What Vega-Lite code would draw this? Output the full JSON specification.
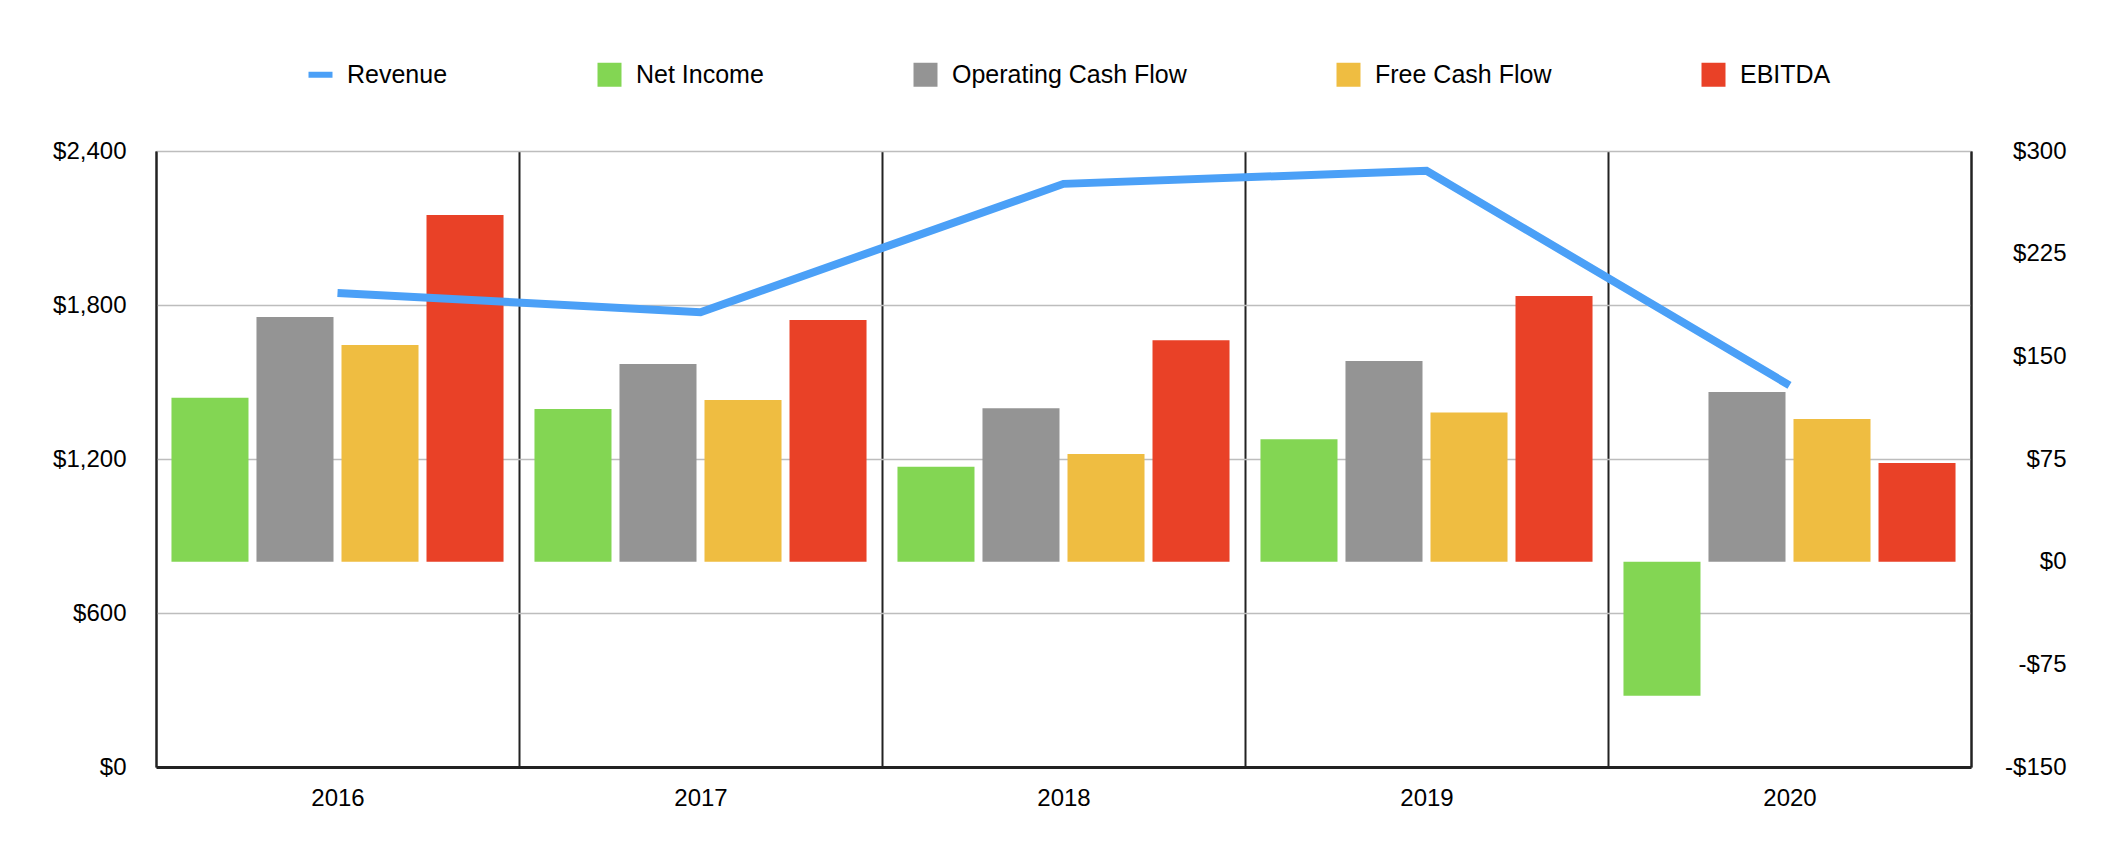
{
  "$schema": "https://vega.github.io/schema/vega-lite/v6.json",
  "width": 1815,
  "height": 616,
  "autosize": {"type": "none"},
  "padding": {"left": 156, "top": 151, "right": 149, "bottom": 87},
  "background": "white",
  "data": {
    "values": [
      {"year": "2016", "series": "Revenue", "value": 1847},
      {"year": "2017", "series": "Revenue", "value": 1772},
      {"year": "2018", "series": "Revenue", "value": 2272},
      {"year": "2019", "series": "Revenue", "value": 2323},
      {"year": "2020", "series": "Revenue", "value": 1487},
      {"year": "2016", "series": "Net Income", "value": 119.8},
      {"year": "2016", "series": "Operating Cash Flow", "value": 178.7},
      {"year": "2016", "series": "Free Cash Flow", "value": 158.3},
      {"year": "2016", "series": "EBITDA", "value": 253.3},
      {"year": "2017", "series": "Net Income", "value": 111.5},
      {"year": "2017", "series": "Operating Cash Flow", "value": 144.4},
      {"year": "2017", "series": "Free Cash Flow", "value": 118.1},
      {"year": "2017", "series": "EBITDA", "value": 176.6},
      {"year": "2018", "series": "Net Income", "value": 69.3},
      {"year": "2018", "series": "Operating Cash Flow", "value": 112},
      {"year": "2018", "series": "Free Cash Flow", "value": 78.6},
      {"year": "2018", "series": "EBITDA", "value": 161.8},
      {"year": "2019", "series": "Net Income", "value": 89.5},
      {"year": "2019", "series": "Operating Cash Flow", "value": 146.6},
      {"year": "2019", "series": "Free Cash Flow", "value": 109},
      {"year": "2019", "series": "EBITDA", "value": 194},
      {"year": "2020", "series": "Net Income", "value": -97.9},
      {"year": "2020", "series": "Operating Cash Flow", "value": 124},
      {"year": "2020", "series": "Free Cash Flow", "value": 104.2},
      {"year": "2020", "series": "EBITDA", "value": 72.1}
    ]
  },
  "encoding": {
    "x": {
      "field": "year",
      "type": "nominal",
      "scale": {"paddingInner": 0, "paddingOuter": 0},
      "axis": {
        "title": null,
        "labelAngle": 0,
        "labelFontSize": 24,
        "labelPadding": 19,
        "ticks": false,
        "grid": true,
        "tickBand": "extent",
        "gridColor": "#222222",
        "gridWidth": 2,
        "domainColor": "#222222",
        "domainWidth": 3
      }
    },
    "color": {
      "field": "series",
      "type": "nominal",
      "scale": {
        "domain": ["Revenue", "Net Income", "Operating Cash Flow", "Free Cash Flow", "EBITDA"],
        "range": ["#4BA0F7", "#83D653", "#949494", "#EFBD41", "#E94127"]
      },
      "legend": {
        "title": null,
        "orient": "none",
        "legendX": 152,
        "legendY": -89,
        "direction": "horizontal",
        "padding": 0,
        "symbolSize": 576,
        "labelFontSize": 25,
        "labelOffset": 14,
        "columnPadding": 149,
        "labelLimit": 400,
        "encode": {
          "symbols": {
            "update": {
              "shape": {"signal": "datum.value === 'Revenue' ? 'stroke' : 'square'"},
              "fill": {"scale": "color", "field": "value"},
              "stroke": {"scale": "color", "field": "value"},
              "strokeWidth": {"signal": "datum.value === 'Revenue' ? 6 : 0"},
              "opacity": {"value": 1}
            }
          }
        }
      }
    }
  },
  "layer": [
    {
      "transform": [{"filter": "datum.series !== 'Revenue'"}],
      "mark": {"type": "bar"},
      "encoding": {
        "xOffset": {
          "field": "series",
          "type": "nominal",
          "scale": {
            "domain": ["Net Income", "Operating Cash Flow", "Free Cash Flow", "EBITDA"],
            "paddingInner": 0.094,
            "paddingOuter": 0.182
          }
        },
        "y": {
          "field": "value",
          "type": "quantitative",
          "scale": {"domain": [-150, 300], "nice": false, "zero": false},
          "axis": {
            "orient": "right",
            "title": null,
            "values": [-150, -75, 0, 75, 150, 225, 300],
            "labelExpr": "(datum.value < 0 ? '-' : '') + '$' + format(abs(datum.value), ',')",
            "labelFontSize": 24,
            "labelAlign": "right",
            "labelPadding": 95,
            "ticks": false,
            "grid": false,
            "domainColor": "#222222",
            "domainWidth": 2
          }
        }
      }
    },
    {
      "transform": [{"filter": "datum.series === 'Revenue'"}],
      "mark": {"type": "line", "strokeWidth": 8, "strokeCap": "butt", "strokeJoin": "miter"},
      "encoding": {
        "y": {
          "field": "value",
          "type": "quantitative",
          "scale": {"domain": [0, 2400], "nice": false},
          "axis": {
            "orient": "left",
            "title": null,
            "values": [0, 600, 1200, 1800, 2400],
            "labelExpr": "'$' + format(datum.value, ',')",
            "labelFontSize": 24,
            "labelPadding": 30,
            "ticks": false,
            "grid": true,
            "gridColor": "#BDBDBD",
            "gridWidth": 1.5,
            "domainColor": "#222222",
            "domainWidth": 2
          }
        }
      }
    }
  ],
  "resolve": {"scale": {"y": "independent"}},
  "config": {
    "font": "Liberation Sans",
    "view": {"stroke": null},
    "axis": {"labelColor": "#000000", "labelFont": "Liberation Sans"},
    "legend": {"labelColor": "#000000", "labelFont": "Liberation Sans"}
  }
}
